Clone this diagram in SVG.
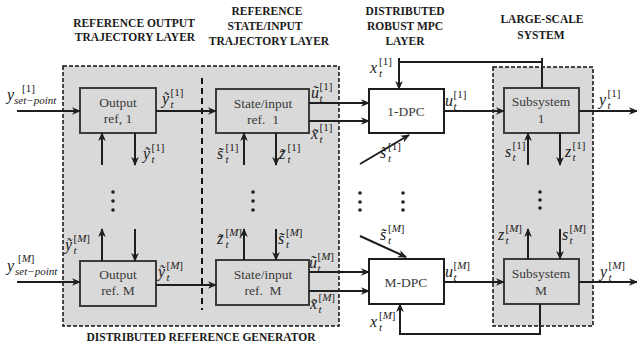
<svg xmlns="http://www.w3.org/2000/svg" width="637" height="345" viewBox="0 0 637 345">
<defs>
<style>
.gray{fill:#d9d9d9;stroke:#111;stroke-width:1.5;stroke-dasharray:4 2}
.div{fill:none;stroke:#111;stroke-width:2;stroke-dasharray:6 4}
.box{fill:#d9d9d9;stroke:#3c3c3c;stroke-width:2}
.wbox{fill:#fff;stroke:#1e1e1e;stroke-width:2}
.ln{fill:none;stroke:#1e1e1e;stroke-width:2}
.arr{marker-end:url(#ah)}
.title{font-family:"Liberation Serif",serif;font-weight:bold;font-size:11.5px;text-anchor:middle;fill:#1a1a1a}
.bt{font-family:"Liberation Serif",serif;font-size:13.5px;text-anchor:middle;fill:#3a3a3a}
.mb{font-family:"Liberation Serif",serif;font-style:italic;font-size:16px;fill:#1a1a1a}
.ms{font-family:"Liberation Serif",serif;font-style:italic;font-size:11px;fill:#1a1a1a}
.up{font-style:normal}
.dot{fill:#1e1e1e}
</style>
<marker id="ah" markerUnits="userSpaceOnUse" markerWidth="10" markerHeight="10" refX="8" refY="5" orient="auto">
<path d="M0,1.2 L9,5 L0,8.8 L2.5,5 z" fill="#1e1e1e"/>
</marker>
</defs>
<rect width="637" height="345" fill="#fff"/>

<g id="titles">
<text class="title" x="134" y="27">REFERENCE OUTPUT</text>
<text class="title" x="135" y="41">TRAJECTORY LAYER</text>
<text class="title" x="267" y="15">REFERENCE</text>
<text class="title" x="265" y="30">STATE/INPUT</text>
<text class="title" x="269" y="45">TRAJECTORY LAYER</text>
<text class="title" x="405" y="15">DISTRIBUTED</text>
<text class="title" x="405" y="30">ROBUST MPC</text>
<text class="title" x="405" y="45">LAYER</text>
<text class="title" x="542" y="23" font-size="12">LARGE-SCALE</text>
<text class="title" x="541" y="39" font-size="12">SYSTEM</text>
</g>

<g id="reference-generator">
<rect class="gray" x="63" y="66" width="276" height="260"/>
<line class="div" x1="202" y1="78" x2="202" y2="310"/>
<text class="title" x="201" y="341" font-size="13">DISTRIBUTED REFERENCE GENERATOR</text>
</g>
<g id="large-scale-system">
<rect class="gray" x="493" y="67" width="100" height="259"/>
</g>

<g id="output-ref-1">
<rect class="box" x="80" y="88" width="76" height="45"/>
<text class="bt" x="118" y="107">Output</text>
<text class="bt" x="118" y="123">ref, 1</text>
</g>
<g id="state-input-ref-1">
<rect class="box" x="216" y="89" width="93" height="44"/>
<text class="bt" x="263" y="108">State/input</text>
<text class="bt" x="263" y="124" xml:space="preserve">ref.  1</text>
</g>
<g id="dpc-1">
<rect class="wbox" x="369" y="89" width="75" height="44"/>
<text class="bt" x="406" y="116" fill="#222">1-DPC</text>
</g>
<g id="subsystem-1">
<rect class="box" x="504" y="88" width="75" height="45"/>
<text class="bt" x="541" y="106">Subsystem</text>
<text class="bt" x="541" y="123">1</text>
</g>
<g id="output-ref-M">
<rect class="box" x="80" y="261" width="76" height="45"/>
<text class="bt" x="118" y="279">Output</text>
<text class="bt" x="118" y="295">ref. M</text>
</g>
<g id="state-input-ref-M">
<rect class="box" x="216" y="260" width="93" height="45"/>
<text class="bt" x="263" y="279">State/input</text>
<text class="bt" x="263" y="295" xml:space="preserve">ref.  M</text>
</g>
<g id="dpc-M">
<rect class="wbox" x="369" y="259" width="75" height="45"/>
<text class="bt" x="406" y="287" fill="#222">M-DPC</text>
</g>
<g id="subsystem-M">
<rect class="box" x="504" y="259" width="75" height="45"/>
<text class="bt" x="541" y="278">Subsystem</text>
<text class="bt" x="541" y="295">M</text>
</g>

<g id="ellipses">
<circle class="dot" cx="113" cy="192" r="1.8"/><circle class="dot" cx="113" cy="201" r="1.8"/><circle class="dot" cx="113" cy="210" r="1.8"/>
<circle class="dot" cx="253" cy="192" r="1.8"/><circle class="dot" cx="253" cy="201" r="1.8"/><circle class="dot" cx="253" cy="210" r="1.8"/>
<circle class="dot" cx="360" cy="193" r="1.8"/><circle class="dot" cx="360" cy="202" r="1.8"/><circle class="dot" cx="360" cy="210" r="1.8"/>
<circle class="dot" cx="403" cy="193" r="1.8"/><circle class="dot" cx="403" cy="202" r="1.8"/><circle class="dot" cx="403" cy="210" r="1.8"/>
<circle class="dot" cx="540" cy="192" r="1.8"/><circle class="dot" cx="540" cy="200" r="1.8"/><circle class="dot" cx="540" cy="208" r="1.8"/>
</g>

<g id="connectors">
<line class="ln arr" x1="17" y1="111" x2="80" y2="111"/>
<line class="ln arr" x1="156" y1="111" x2="216" y2="111"/>
<line class="ln arr" x1="102" y1="165" x2="102" y2="133"/>
<line class="ln arr" x1="135" y1="133" x2="135" y2="165"/>
<line class="ln arr" x1="244" y1="165" x2="244" y2="133"/>
<line class="ln arr" x1="276" y1="133" x2="276" y2="165"/>
<line class="ln arr" x1="309" y1="103" x2="369" y2="103"/>
<line class="ln arr" x1="309" y1="121" x2="369" y2="121"/>
<line class="ln arr" x1="360" y1="164" x2="409" y2="135"/>
<path class="ln" d="M542,88 V58 M542,62 H399"/>
<line class="ln arr" x1="399" y1="58" x2="399" y2="89"/>
<line class="ln arr" x1="444" y1="111" x2="504" y2="111"/>
<line class="ln arr" x1="579" y1="111" x2="637" y2="111"/>
<line class="ln arr" x1="528" y1="165" x2="528" y2="133"/>
<line class="ln arr" x1="560" y1="133" x2="560" y2="165"/>

<line class="ln arr" x1="17" y1="282" x2="80" y2="282"/>
<line class="ln arr" x1="156" y1="285" x2="216" y2="285"/>
<line class="ln arr" x1="102" y1="261" x2="102" y2="229"/>
<line class="ln arr" x1="135" y1="229" x2="135" y2="261"/>
<line class="ln arr" x1="244" y1="260" x2="244" y2="229"/>
<line class="ln arr" x1="276" y1="229" x2="276" y2="260"/>
<line class="ln arr" x1="309" y1="272" x2="369" y2="272"/>
<line class="ln arr" x1="309" y1="291" x2="369" y2="291"/>
<line class="ln arr" x1="360" y1="236" x2="406" y2="257"/>
<path class="ln arr" d="M540,304 V334 H400 V304"/>
<line class="ln arr" x1="444" y1="282" x2="504" y2="282"/>
<line class="ln arr" x1="579" y1="282" x2="637" y2="282"/>
<line class="ln arr" x1="528" y1="259" x2="528" y2="229"/>
<line class="ln arr" x1="560" y1="229" x2="560" y2="259"/>
</g>

<g id="labels">
<text class="mb" x="7" y="100" font-size="18">y</text><text class="ms up" x="22" y="92" font-size="13.5">[1]</text><text class="ms" x="14" y="104" font-size="12.5">set−point</text>
<text class="mb" x="7" y="271" font-size="18">y</text><text class="ms" x="18" y="262" font-size="13.5"><tspan class="up">[</tspan>M<tspan class="up">]</tspan></text><text class="ms" x="15" y="275" font-size="12.5">set−point</text>

<text class="mb" x="162" y="104">ỹ</text><text class="ms" x="170.5" y="107.5">t</text><text class="ms up" x="170.5" y="96">[1]</text>
<text class="mb" x="143" y="159">ỹ</text><text class="ms" x="151.5" y="162.5">t</text><text class="ms up" x="151.5" y="151">[1]</text>
<text class="mb" x="217" y="159">s̃</text><text class="ms" x="225.5" y="162.5">t</text><text class="ms up" x="225.5" y="151">[1]</text>
<text class="mb" x="279" y="159">z̃</text><text class="ms" x="287.5" y="162.5">t</text><text class="ms up" x="287.5" y="151">[1]</text>
<text class="mb" x="311" y="98">ũ</text><text class="ms" x="319.5" y="101.5">t</text><text class="ms up" x="319.5" y="90">[1]</text>
<text class="mb" x="311" y="139">x̃</text><text class="ms" x="319.5" y="142.5">t</text><text class="ms up" x="319.5" y="131">[1]</text>
<text class="mb" x="370" y="73">x</text><text class="ms" x="379" y="76.5">t</text><text class="ms up" x="379" y="65">[1]</text>
<text class="mb" x="380" y="158">s̃</text><text class="ms" x="388" y="161.5">t</text><text class="ms up" x="388" y="150">[1]</text>
<text class="mb" x="445" y="106">u</text><text class="ms" x="453.5" y="109.5">t</text><text class="ms up" x="453.5" y="98">[1]</text>
<text class="mb" x="599" y="105">y</text><text class="ms" x="607.5" y="108.5">t</text><text class="ms up" x="607.5" y="97">[1]</text>
<text class="mb" x="505" y="157">s</text><text class="ms" x="512.5" y="160.5">t</text><text class="ms up" x="512.5" y="149">[1]</text>
<text class="mb" x="565" y="157">z</text><text class="ms" x="572.5" y="160.5">t</text><text class="ms up" x="572.5" y="149">[1]</text>

<text class="mb" x="65" y="250">ỹ</text><text class="ms" x="73.5" y="253.5">t</text><text class="ms" x="73.5" y="242"><tspan class="up">[</tspan>M<tspan class="up">]</tspan></text>
<text class="mb" x="158" y="277">ỹ</text><text class="ms" x="166.5" y="280.5">t</text><text class="ms" x="166.5" y="269"><tspan class="up">[</tspan>M<tspan class="up">]</tspan></text>
<text class="mb" x="217" y="244">z̃</text><text class="ms" x="225.5" y="247.5">t</text><text class="ms" x="225.5" y="236"><tspan class="up">[</tspan>M<tspan class="up">]</tspan></text>
<text class="mb" x="278" y="244">s̃</text><text class="ms" x="286" y="247.5">t</text><text class="ms" x="286" y="236"><tspan class="up">[</tspan>M<tspan class="up">]</tspan></text>
<text class="mb" x="309" y="268">ũ</text><text class="ms" x="317.5" y="271.5">t</text><text class="ms" x="317.5" y="260"><tspan class="up">[</tspan>M<tspan class="up">]</tspan></text>
<text class="mb" x="310" y="309">x̃</text><text class="ms" x="318.5" y="312.5">t</text><text class="ms" x="318.5" y="301"><tspan class="up">[</tspan>M<tspan class="up">]</tspan></text>
<text class="mb" x="380" y="240">s̃</text><text class="ms" x="388" y="243.5">t</text><text class="ms" x="388" y="232"><tspan class="up">[</tspan>M<tspan class="up">]</tspan></text>
<text class="mb" x="370" y="327">x</text><text class="ms" x="379" y="330.5">t</text><text class="ms" x="379" y="319"><tspan class="up">[</tspan>M<tspan class="up">]</tspan></text>
<text class="mb" x="445" y="277">u</text><text class="ms" x="453.5" y="280.5">t</text><text class="ms" x="453.5" y="269"><tspan class="up">[</tspan>M<tspan class="up">]</tspan></text>
<text class="mb" x="600" y="277">y</text><text class="ms" x="608.5" y="280.5">t</text><text class="ms" x="608.5" y="269"><tspan class="up">[</tspan>M<tspan class="up">]</tspan></text>
<text class="mb" x="498" y="240">z</text><text class="ms" x="505.5" y="243.5">t</text><text class="ms" x="505.5" y="232"><tspan class="up">[</tspan>M<tspan class="up">]</tspan></text>
<text class="mb" x="562" y="240">s</text><text class="ms" x="569.5" y="243.5">t</text><text class="ms" x="569.5" y="232"><tspan class="up">[</tspan>M<tspan class="up">]</tspan></text>
</g>
</svg>
